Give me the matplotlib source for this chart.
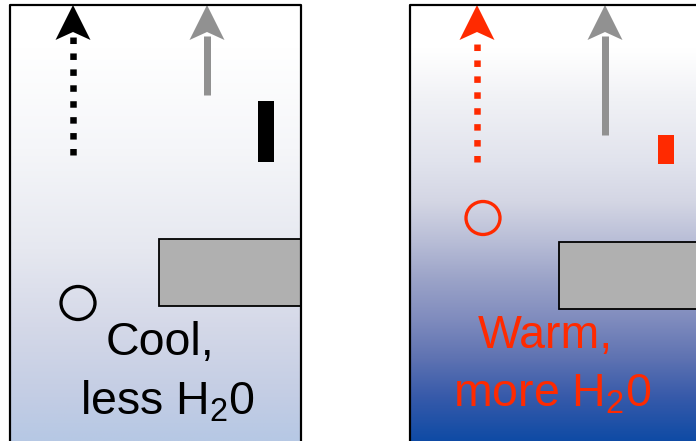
import numpy as np
import matplotlib.pyplot as plt
from matplotlib.colors import LinearSegmentedColormap
from matplotlib.patches import Polygon, Rectangle, Ellipse

plt.rcParams['font.family'] = ['Liberation Sans', 'DejaVu Sans']
plt.rcParams['mathtext.fontset'] = 'custom'
plt.rcParams['mathtext.rm'] = 'Liberation Sans'

# Panel contents (pixel coordinates of a 696x441 canvas)
panel_x = [10, 410]
panel_w = [291, 300]
panel_top = 5
accent = ['black', '#ff2a00']
labels = [['Cool,', r'less H$_\mathregular{2}$0'],
          ['Warm,', r'more H$_\mathregular{2}$0']]
label_x = [[160, 168], [545, 552]]
label_y = [[355, 415], [348, 407]]

# dotted (water vapour) arrow and grey arrow
dot_x = [73, 477]
dot_bottom = [155, 162]
grey_x = [207, 605]
grey_bottom = [95, 135]

# bar, circle, grey box
bar_x = [258, 658]
bar_y = [(101, 162), (135, 164)]
circle_xy = [(78, 303), (483, 218)]
box_x = [159, 559]
box_w = [142, 160]
box_y = [(239, 306), (242, 309)]

# background gradient stops (position 0 = top, 1 = bottom)
grad_cool = [(0.0, '#ffffff'), (0.1, '#ffffff'), (0.33, '#f5f6f9'),
             (0.56, '#e6e8f0'), (0.74, '#d4d8e8'), (0.9, '#c3cde4'),
             (1.0, '#b6c8e4')]
grad_warm = [(0.0, '#ffffff'), (0.1, '#ffffff'), (0.22, '#f0f1f5'),
             (0.36, '#e1e3ed'), (0.45, '#d4d6e4'), (0.54, '#b9bed7'),
             (0.63, '#9ba3c8'), (0.72, '#808cbe'), (0.81, '#5f73b2'),
             (0.9, '#375aaa'), (1.0, '#0f4ba5')]
grads = [grad_cool, grad_warm]

fig = plt.figure(figsize=(6.96, 4.41), dpi=100)
ax = fig.add_axes([0, 0, 1, 1])
ax.set_xlim(0, 696)
ax.set_ylim(441, 0)
ax.axis('off')

px = 72 / 100  # points per pixel


def arrow_head(x, color):
    head = Polygon([(x, panel_top), (x - 17.5, 40), (x, 32), (x + 17.5, 40)],
                   closed=True, facecolor=color, edgecolor='none', zorder=5)
    ax.add_patch(head)


for i in range(2):
    x0, w = panel_x[i], panel_w[i]
    cmap = LinearSegmentedColormap.from_list('g%d' % i, grads[i])
    grad = np.linspace(0, 1, 256).reshape(-1, 1)
    ax.imshow(grad, cmap=cmap, aspect='auto', extent=(x0, x0 + w, 441, panel_top),
              origin='upper', zorder=0, interpolation='bilinear')

    # panel border
    if i == 0:
        ax.plot([x0, x0, x0 + w, x0 + w], [441, panel_top, panel_top, 441],
                color='black', lw=2.2 * px, zorder=6)
    else:
        ax.plot([x0, x0, 700], [441, panel_top, panel_top],
                color='black', lw=2.2 * px, zorder=6)

    c = accent[i]
    # dotted arrow
    ax.plot([dot_x[i], dot_x[i]], [dot_bottom[i], 36], color=c, lw=6.5 * px,
            linestyle=(0, (1, 1.45)), dash_capstyle='butt', zorder=4)
    arrow_head(dot_x[i], c)

    # grey arrow
    ax.plot([grey_x[i], grey_x[i]], [grey_bottom[i], 36], color='#919191',
            lw=7 * px, solid_capstyle='butt', zorder=4)
    arrow_head(grey_x[i], '#919191')

    # bar
    ax.add_patch(Rectangle((bar_x[i], bar_y[i][0]), 16, bar_y[i][1] - bar_y[i][0],
                           facecolor=c, edgecolor='none', zorder=4))

    # grey box
    ax.add_patch(Rectangle((box_x[i], box_y[i][0]), box_w[i], box_y[i][1] - box_y[i][0],
                           facecolor='#b0b0b0', edgecolor='black', lw=1.8 * px,
                           zorder=3))

    # circle
    ax.add_patch(Ellipse(circle_xy[i], 34, 33, facecolor='none', edgecolor=c,
                         lw=3.3 * px, zorder=4))

    for t, tx, ty in zip(labels[i], label_x[i], label_y[i]):
        ax.text(tx, ty, t, color=c, fontsize=33.5, ha='center', va='baseline',
                zorder=7)

fig.savefig('out.png', dpi=100)
